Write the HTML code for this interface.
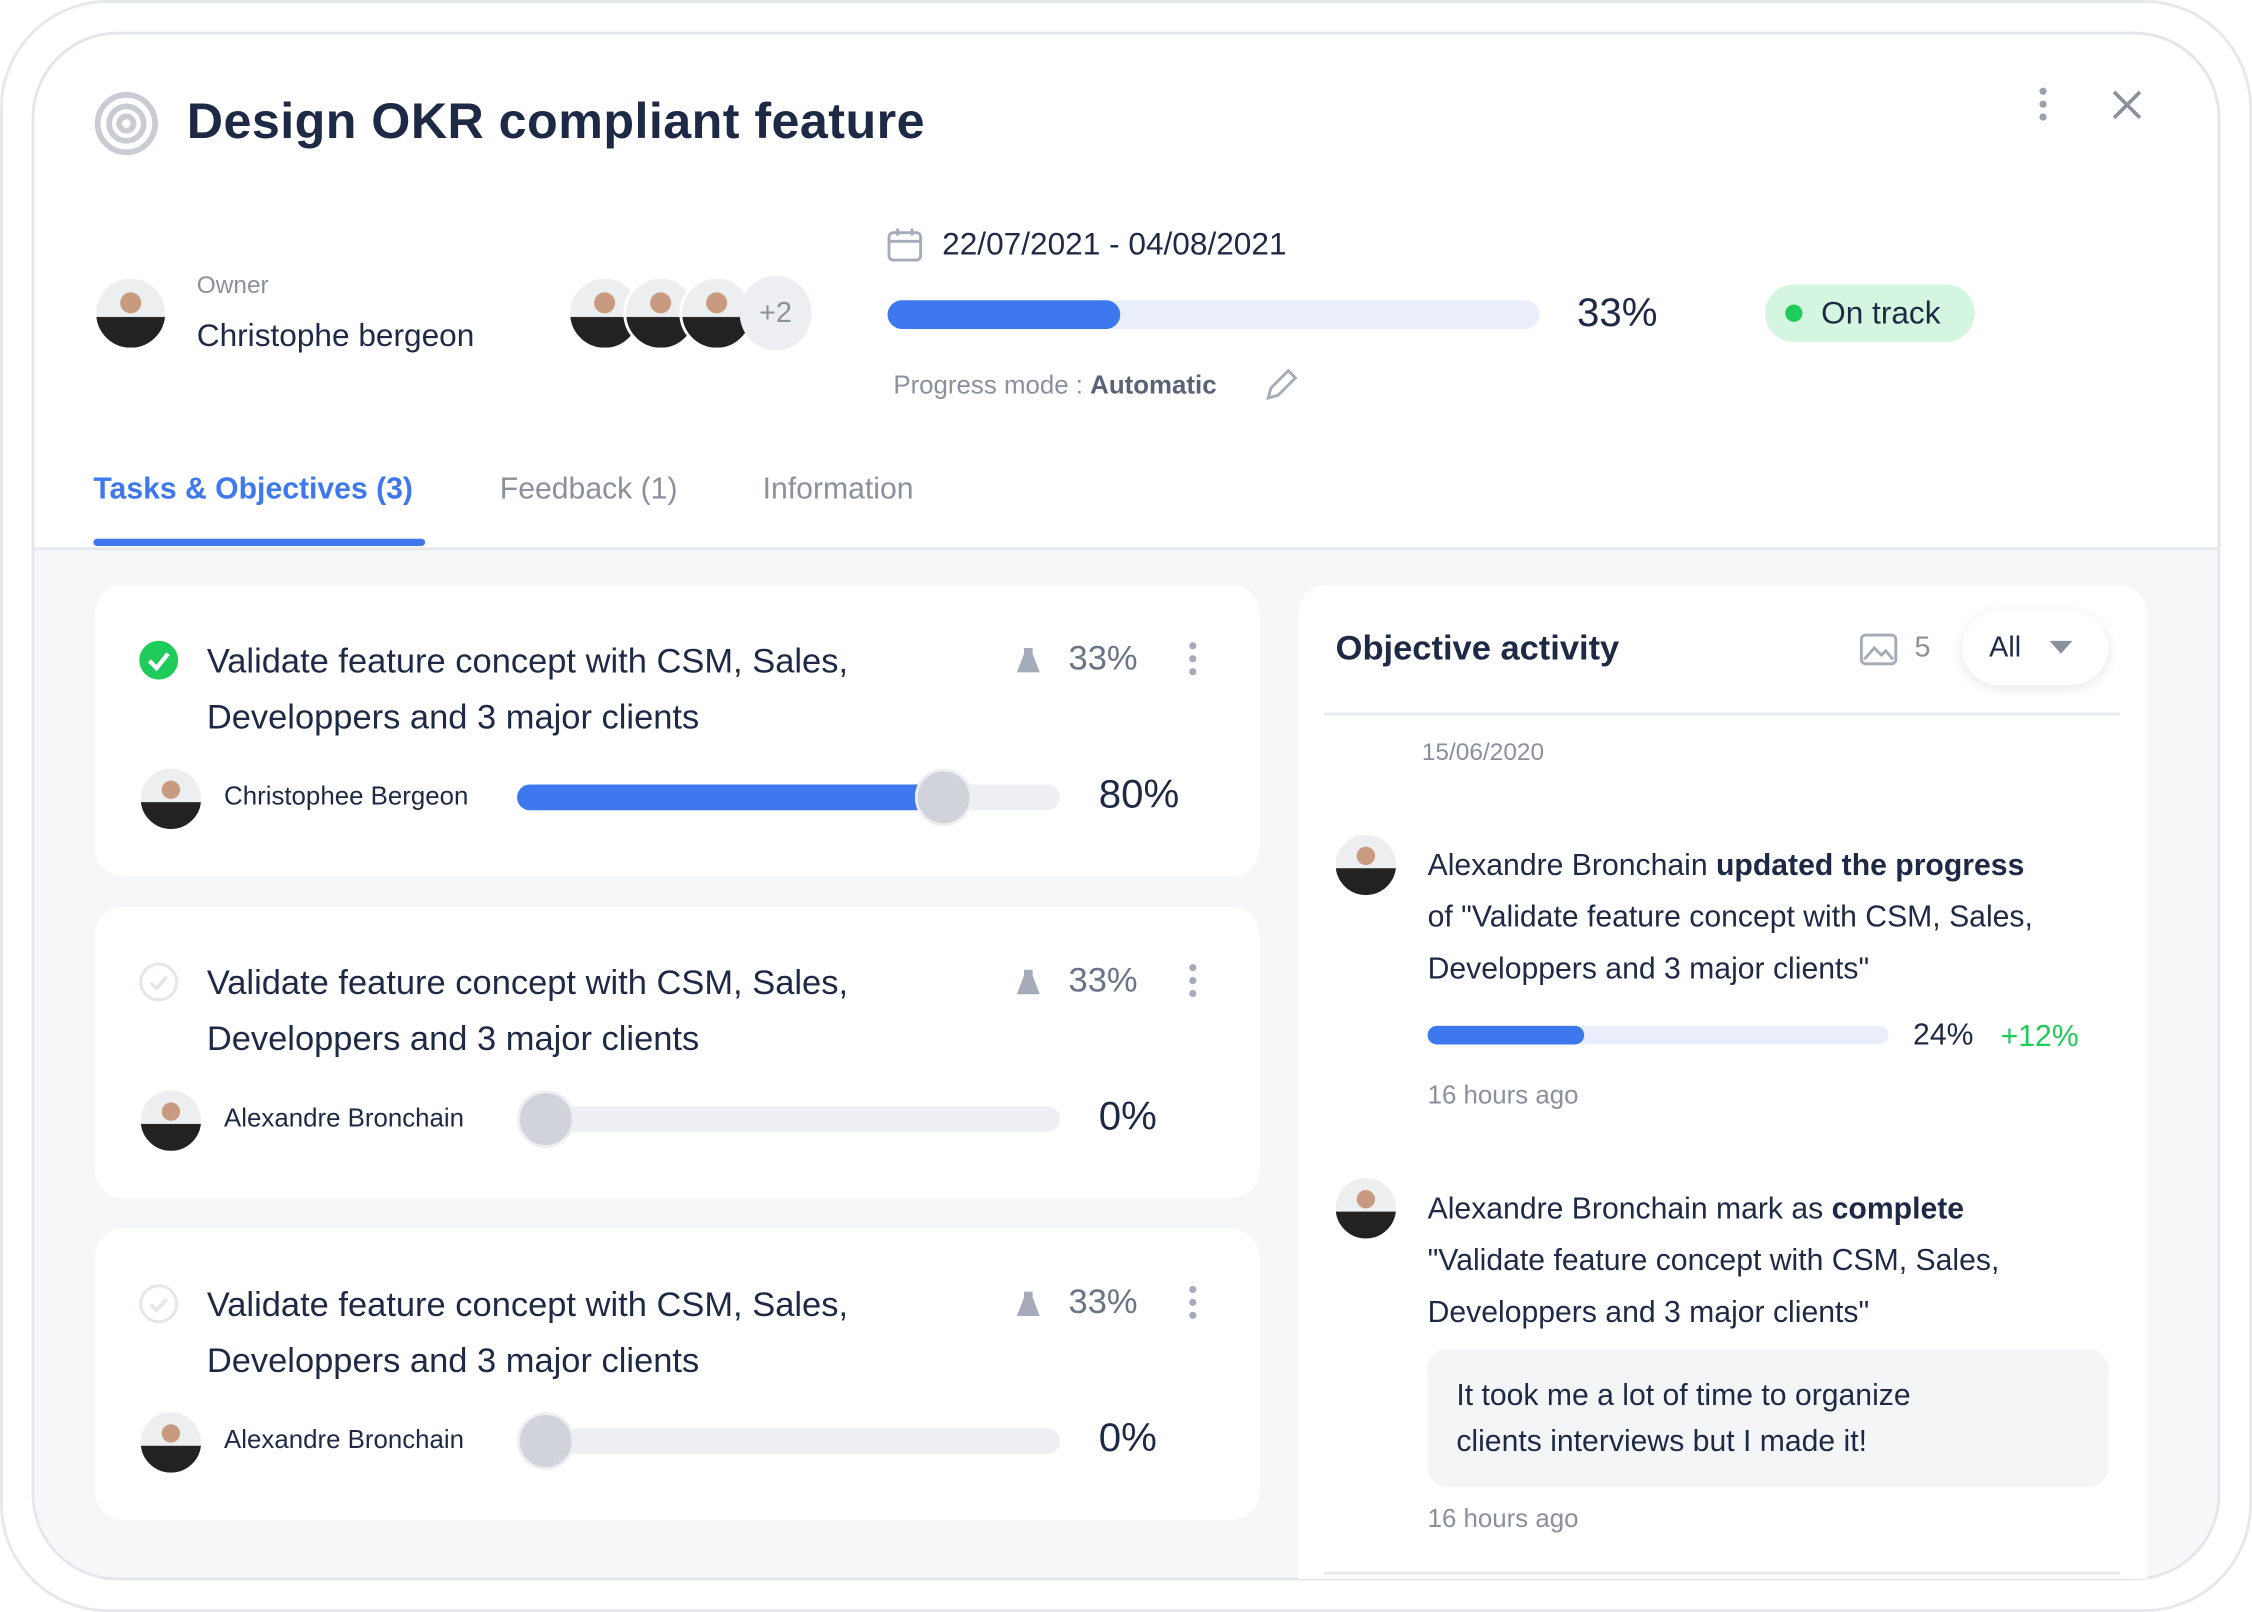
<!DOCTYPE html>
<html><head><meta charset="utf-8"><style>
*{margin:0;padding:0;box-sizing:border-box}
html,body{width:2252px;height:1612px;overflow:hidden;background:#fff}
#w{position:absolute;left:0;top:0;width:1568px;height:1122px;transform:scale(1.43622,1.43672);transform-origin:0 0;font-family:"Liberation Sans",sans-serif;color:#1e2a45}
.a{position:absolute}
.t{position:absolute;white-space:nowrap}
.av{position:absolute;border-radius:50%;background:radial-gradient(circle at 50% 35%,#c89a80 0 18%,transparent 19%),linear-gradient(#eceef0 0 55%,#222 56%);border:2px solid #fff}
.card{position:absolute;left:66px;width:811px;height:203px;background:#fff;border-radius:20px}
.card .ttl{position:absolute;left:78px;top:34px;font-size:24px;line-height:39px;color:#1e2a45}
.card .lk{position:absolute;left:641px;top:42px;width:18px;height:20px}
.card .pc{position:absolute;left:678px;top:38px;font-size:24px;color:#6b7486}
.card .km{position:absolute;left:762px;top:40px;width:6px}
.card .km i{display:block;width:5px;height:5px;border-radius:50%;background:#a5abb8;margin-bottom:4px}
.card .nm{position:absolute;left:90px;top:137px;font-size:18px;color:#1e2a45}
.card .bar{position:absolute;left:294px;top:139px;width:378px;height:18px;border-radius:9px;background:#eeeff2}
.card .knob{position:absolute;width:40px;height:40px;border-radius:50%;background:#d0d3da;border:2px solid #eceef1;top:128px}
.card .bp{position:absolute;top:130px;font-size:28px;color:#1e2a45}
.card .ck{position:absolute;left:31px;top:39px;width:27px;height:27px;border-radius:50%}
</style></head><body><div id="w">
<div class="a" style="left:0;top:0;width:1568px;height:1122px;border:2px solid #e6e8ec;border-radius:75px"></div>
<div class="a" style="left:22px;top:22px;width:1524px;height:1078px;border:2px solid #e3e6ea;border-radius:60px;overflow:hidden;background:#fff">
 <div class="a" style="left:0;top:357px;width:1524px;height:725px;background:#f6f7f8;border-top:2px solid #e6e8ec"></div>
</div>
<svg class="a" style="left:64px;top:62px" width="48" height="48"><g fill="none" stroke="#c9ccd3" stroke-width="4"><circle cx="24" cy="24" r="20"/><circle cx="24" cy="24" r="12"/><circle cx="24" cy="24" r="5"/></g></svg>
<div class="t" style="left:130px;top:65px;font-size:35px;font-weight:bold;color:#1e2a45;letter-spacing:0.3px">Design OKR compliant feature</div>
<div class="a" style="left:1420px;top:61px"><div style="width:5px;height:5px;border-radius:50%;background:#9aa1ad;margin-bottom:4px"></div><div style="width:5px;height:5px;border-radius:50%;background:#9aa1ad;margin-bottom:4px"></div><div style="width:5px;height:5px;border-radius:50%;background:#9aa1ad"></div></div>
<svg class="a" style="left:1470px;top:62px" width="22" height="22"><path d="M2 2L20 20M20 2L2 20" stroke="#8a909c" stroke-width="2.5"/></svg>
<div class="av" style="left:65px;top:192px;width:52px;height:52px"></div>
<div class="t" style="left:137px;top:189px;font-size:17px;color:#8a909c">Owner</div>
<div class="t" style="left:137px;top:221px;font-size:22px;color:#1e2a45">Christophe bergeon</div>
<div class="av" style="left:395px;top:192px;width:52px;height:52px"></div>
<div class="av" style="left:434px;top:192px;width:52px;height:52px"></div>
<div class="av" style="left:473px;top:192px;width:52px;height:52px"></div>
<div class="a" style="left:515px;top:192px;width:50px;height:52px;border-radius:50%;background:#eceef1;color:#8a909c;font-size:20px;text-align:center;line-height:52px">+2</div>
<svg class="a" style="left:617px;top:157px" width="26" height="26"><rect x="2" y="5" width="22" height="19" rx="3" fill="none" stroke="#a5abb8" stroke-width="2"/><path d="M2 11H24M8 2V7M18 2V7" stroke="#a5abb8" stroke-width="2"/></svg>
<div class="t" style="left:656px;top:157px;font-size:22px;color:#1e2a45">22/07/2021 - 04/08/2021</div>
<div class="a" style="left:618px;top:209px;width:454px;height:20px;border-radius:10px;background:#e9eefa"><div style="width:162px;height:20px;border-radius:10px;background:#3e78ee"></div></div>
<div class="t" style="left:1098px;top:202px;font-size:28px;color:#1e2a45">33%</div>
<div class="a" style="left:1229px;top:198px;width:146px;height:40px;border-radius:20px;background:#d4f5df"></div>
<div class="a" style="left:1243px;top:212px;width:12px;height:12px;border-radius:50%;background:#1fcb5a"></div>
<div class="t" style="left:1268px;top:205px;font-size:22px;color:#1e2a45">On track</div>
<div class="t" style="left:622px;top:258px;font-size:18px;color:#8a909c">Progress mode : <span style="color:#5a6275;font-weight:bold">Automatic</span></div>
<svg class="a" style="left:879px;top:255px" width="26" height="26"><path d="M4 22L6 15L18 3L23 8L11 20Z" fill="none" stroke="#a5abb8" stroke-width="2"/></svg>
<div class="t" style="left:65px;top:329px;font-size:21px;color:#3e78ee;font-weight:bold">Tasks &amp; Objectives (3)</div>
<div class="a" style="left:65px;top:375px;width:231px;height:5px;border-radius:3px;background:#3e78ee"></div>
<div class="t" style="left:348px;top:329px;font-size:21px;color:#8a909c">Feedback (1)</div>
<div class="t" style="left:531px;top:329px;font-size:21px;color:#8a909c">Information</div>

<div class="card" style="top:407px">
 <div class="ck" style="background:#1fcb5a"><svg width="27" height="27"><path d="M7 14L12 19L20 9" fill="none" stroke="#fff" stroke-width="3"/></svg></div>
 <div class="ttl">Validate feature concept with CSM, Sales,<br>Developpers and 3 major clients</div>
 <svg class="lk" viewBox="0 0 18 20"><path d="M6 2h6v4l5 13H1L6 6z" fill="#a5abb8"/></svg>
 <div class="pc">33%</div><div class="km"><i></i><i></i><i></i></div>
 <div class="av" style="left:30px;top:126px;width:46px;height:46px"></div>
 <div class="nm">Christophee Bergeon</div>
 <div class="bar"><div style="width:300px;height:18px;border-radius:9px;background:#3e78ee"></div></div>
 <div class="knob" style="left:571px"></div>
 <div class="bp" style="left:699px">80%</div>
</div>
<div class="card" style="top:631px">
 <div class="ck" style="border:2px solid #e3e6ea"><svg width="23" height="23"><path d="M6 12L10 16L17 8" fill="none" stroke="#e3e6ea" stroke-width="2.5"/></svg></div>
 <div class="ttl">Validate feature concept with CSM, Sales,<br>Developpers and 3 major clients</div>
 <svg class="lk" viewBox="0 0 18 20"><path d="M6 2h6v4l5 13H1L6 6z" fill="#a5abb8"/></svg>
 <div class="pc">33%</div><div class="km"><i></i><i></i><i></i></div>
 <div class="av" style="left:30px;top:126px;width:46px;height:46px"></div>
 <div class="nm">Alexandre Bronchain</div>
 <div class="bar"></div>
 <div class="knob" style="left:294px"></div>
 <div class="bp" style="left:699px">0%</div>
</div>
<div class="card" style="top:855px">
 <div class="ck" style="border:2px solid #e3e6ea"><svg width="23" height="23"><path d="M6 12L10 16L17 8" fill="none" stroke="#e3e6ea" stroke-width="2.5"/></svg></div>
 <div class="ttl">Validate feature concept with CSM, Sales,<br>Developpers and 3 major clients</div>
 <svg class="lk" viewBox="0 0 18 20"><path d="M6 2h6v4l5 13H1L6 6z" fill="#a5abb8"/></svg>
 <div class="pc">33%</div><div class="km"><i></i><i></i><i></i></div>
 <div class="av" style="left:30px;top:126px;width:46px;height:46px"></div>
 <div class="nm">Alexandre Bronchain</div>
 <div class="bar"></div>
 <div class="knob" style="left:294px"></div>
 <div class="bp" style="left:699px">0%</div>
</div>

<div class="a" style="left:904px;top:407px;width:591px;height:692px;background:#fff;border-radius:20px 20px 0 0"></div>
<div class="t" style="left:930px;top:438px;font-size:24px;font-weight:bold;color:#1e2a45">Objective activity</div>
<svg class="a" style="left:1294px;top:440px" width="28" height="24"><rect x="2" y="2" width="24" height="20" rx="3" fill="none" stroke="#a5abb8" stroke-width="2"/><path d="M4 19L11 11L16 16L19 13L24 19" fill="none" stroke="#a5abb8" stroke-width="2"/></svg>
<div class="t" style="left:1333px;top:440px;font-size:20px;color:#8a909c">5</div>
<div class="a" style="left:1366px;top:425px;width:102px;height:52px;border-radius:26px;background:#fff;box-shadow:0 2px 8px rgba(0,0,0,.1)"></div>
<div class="t" style="left:1385px;top:440px;font-size:20px;color:#1e2a45">All</div>
<svg class="a" style="left:1427px;top:446px" width="16" height="10"><path d="M0 0H16L8 9Z" fill="#8a909c"/></svg>
<div class="a" style="left:922px;top:496px;width:554px;height:2px;background:#e6e8ec"></div>
<div class="t" style="left:990px;top:514px;font-size:17px;color:#8a909c">15/06/2020</div>
<div class="av" style="left:928px;top:579px;width:46px;height:46px"></div>
<div class="a" style="left:994px;top:585px;font-size:21px;line-height:36px;color:#1e2a45;white-space:nowrap">Alexandre Bronchain <b>updated the progress</b><br>of "Validate feature concept with CSM, Sales,<br>Developpers and 3 major clients"</div>
<div class="a" style="left:994px;top:714px;width:321px;height:13px;border-radius:7px;background:#e9eefa"><div style="width:109px;height:13px;border-radius:7px;background:#3e78ee"></div></div>
<div class="t" style="left:1332px;top:709px;font-size:21px;color:#1e2a45">24%</div>
<div class="t" style="left:1393px;top:710px;font-size:21px;color:#1fcb5a">+12%</div>
<div class="t" style="left:994px;top:752px;font-size:18px;color:#8a909c">16 hours ago</div>
<div class="av" style="left:928px;top:818px;width:46px;height:46px"></div>
<div class="a" style="left:994px;top:824px;font-size:21px;line-height:36px;color:#1e2a45;white-space:nowrap">Alexandre Bronchain mark as <b>complete</b><br>"Validate feature concept with CSM, Sales,<br>Developpers and 3 major clients"</div>
<div class="a" style="left:994px;top:939px;width:474px;height:96px;border-radius:14px;background:#f4f5f7"></div>
<div class="a" style="left:1014px;top:956px;font-size:21px;line-height:32px;color:#1e2a45">It took me a lot of time to organize<br>clients interviews but I made it!</div>
<div class="t" style="left:994px;top:1047px;font-size:18px;color:#8a909c">16 hours ago</div>
<div class="a" style="left:922px;top:1094px;width:554px;height:2px;background:#e6e8ec"></div>
</div></body></html>
